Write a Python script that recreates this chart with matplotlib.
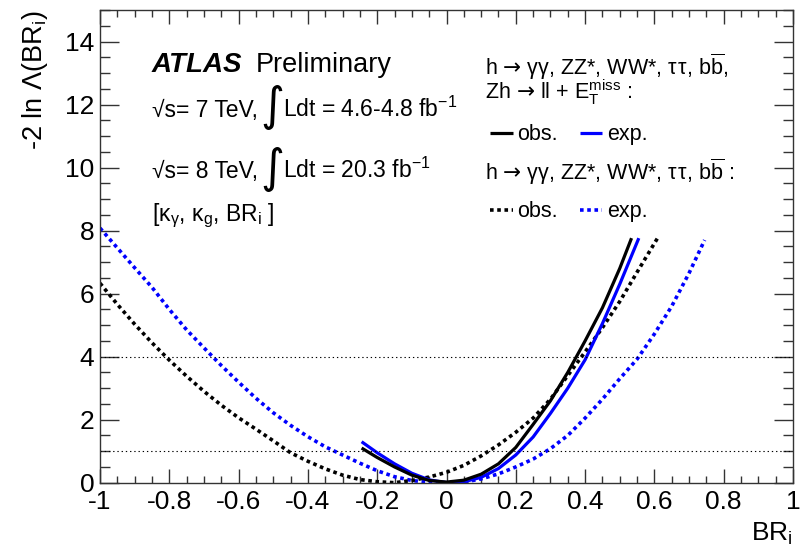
import matplotlib
matplotlib.use("Agg")
import matplotlib.pyplot as plt
from matplotlib.ticker import FixedLocator, MultipleLocator, FixedFormatter

plt.rcParams['font.family'] = ['Liberation Sans', 'DejaVu Sans']
plt.rcParams['mathtext.fontset'] = 'custom'
plt.rcParams['mathtext.rm'] = 'Liberation Sans'
plt.rcParams['mathtext.it'] = 'Liberation Sans:italic'
plt.rcParams['mathtext.bf'] = 'Liberation Sans:bold'
plt.rcParams['mathtext.sf'] = 'DejaVu Sans'
plt.rcParams['mathtext.default'] = 'regular'

# ---------------- data ----------------
# observed, h -> yy, ZZ*, WW*, tautau, bb + Zh -> ll + ETmiss (solid black)
obs_full_x = [-0.245, -0.2, -0.15, -0.1, -0.05, 0.0, 0.05, 0.1, 0.15, 0.2, 0.25, 0.3, 0.35, 0.4, 0.45, 0.5, 0.534]
obs_full_y = [1.10, 0.80, 0.50, 0.24, 0.07, 0.02, 0.08, 0.27, 0.60, 1.12, 1.85, 2.60, 3.50, 4.50, 5.55, 6.80, 7.76]

# expected, same channels (solid blue)
exp_full_x = [-0.245, -0.2, -0.15, -0.1, -0.05, 0.0, 0.05, 0.1, 0.15, 0.2, 0.25, 0.3, 0.35, 0.4, 0.45, 0.5, 0.555]
exp_full_y = [1.30, 0.95, 0.60, 0.30, 0.09, 0.00, 0.03, 0.17, 0.45, 0.88, 1.45, 2.20, 3.00, 3.90, 5.05, 6.30, 7.76]

# observed, visible channels only (dotted black)
obs_vis_x = [-1.0, -0.95, -0.9, -0.85, -0.8, -0.75, -0.7, -0.65, -0.6, -0.55, -0.5, -0.45, -0.4,
             -0.35, -0.3, -0.25, -0.2, -0.15, -0.1, -0.05, 0.0, 0.05, 0.1, 0.15, 0.2, 0.25, 0.3,
             0.35, 0.4, 0.45, 0.5, 0.55, 0.609]
obs_vis_y = [6.33, 5.66, 5.03, 4.44, 3.89, 3.38, 2.90, 2.46, 2.06, 1.70, 1.33, 0.95, 0.68,
             0.44, 0.24, 0.10, 0.03, 0.00, 0.07, 0.18, 0.33, 0.55, 0.85, 1.20, 1.60, 2.05, 2.65,
             3.40, 4.15, 4.92, 5.75, 6.68, 7.76]

# expected, visible channels only (dotted blue)
exp_vis_x = [-1.0, -0.95, -0.9, -0.85, -0.8, -0.75, -0.7, -0.65, -0.6, -0.55, -0.5, -0.45, -0.4,
             -0.35, -0.3, -0.25, -0.2, -0.15, -0.1, -0.05, 0.0, 0.05, 0.1, 0.15, 0.2, 0.25, 0.3,
             0.35, 0.4, 0.45, 0.5, 0.55, 0.6, 0.65, 0.7, 0.745]
exp_vis_y = [8.08, 7.45, 6.82, 6.20, 5.50, 4.85, 4.28, 3.72, 3.19, 2.68, 2.22, 1.82, 1.46,
             1.14, 0.88, 0.62, 0.38, 0.19, 0.07, 0.01, 0.00, 0.02, 0.12, 0.28, 0.50, 0.75, 1.08,
             1.50, 2.05, 2.65, 3.30, 3.92, 4.72, 5.60, 6.65, 7.70]

ref_levels = [1, 4]

x_major = [-1.0, -0.8, -0.6, -0.4, -0.2, 0.0, 0.2, 0.4, 0.6, 0.8, 1.0]
x_labels = ['-1', '-0.8', '-0.6', '-0.4', '-0.2', '0', '0.2', '0.4', '0.6', '0.8', '1']
y_major = [0, 2, 4, 6, 8, 10, 12, 14]
y_labels = ['0', '2', '4', '6', '8', '10', '12', '14']

BLUE = '#0000ff'
dotted = (0, (1.0, 1.0))

# ---------------- figure ----------------
fig = plt.figure(figsize=(8.06, 5.46), dpi=100)
ax = fig.add_axes([100/806, 1 - 482.7/546, 693/806, 472.7/546])

ax.plot(exp_vis_x, exp_vis_y, color=BLUE, lw=2.6, ls=dotted, dash_capstyle='butt')
ax.plot(obs_vis_x, obs_vis_y, color='black', lw=2.6, ls=dotted, dash_capstyle='butt')
ax.plot(exp_full_x, exp_full_y, color=BLUE, lw=2.3, solid_capstyle='butt')
ax.plot(obs_full_x, obs_full_y, color='black', lw=2.3, solid_capstyle='butt')

for lev in ref_levels:
    ax.axhline(lev, color='black', lw=0.8, ls=(0, (1.2, 2.6)))

ax.set_xlim(-1, 1)
ax.set_ylim(0, 15)
ax.xaxis.set_major_locator(FixedLocator(x_major))
ax.xaxis.set_major_formatter(FixedFormatter(x_labels))
ax.xaxis.set_minor_locator(MultipleLocator(0.05))
ax.yaxis.set_major_locator(FixedLocator(y_major))
ax.yaxis.set_major_formatter(FixedFormatter(y_labels))
ax.yaxis.set_minor_locator(MultipleLocator(0.5))

ax.tick_params(which='both', direction='in', top=True, right=True, width=1.0, colors='#333333',
               labelcolor='black', labelsize=19)
ax.tick_params(axis='x', which='major', length=10, pad=5)
ax.tick_params(axis='x', which='minor', length=5)
ax.tick_params(axis='y', which='major', length=14, pad=4)
ax.tick_params(axis='y', which='minor', length=7)
for s in ax.spines.values():
    s.set_color('#333333')
    s.set_linewidth(1.0)

# axis titles
fig.text(35/806, 1 - 10/546, r'-2 ln Λ(BR$_{i}$)', rotation=90, ha='center', va='top', fontsize=19.5)
ax.text(1.0, -0.1225, r'BR$_{i}$', transform=ax.transAxes, ha='right', va='baseline', fontsize=19)

# ---------------- labels on the left ----------------
def fx(px):
    return (px - 100) / 693.0

def fy(py):
    return (482.7 - py) / 472.7

T = ax.transAxes
ax.text(fx(152), fy(72), 'ATLAS', transform=T, fontsize=20, fontweight='bold', style='italic', va='baseline')
ax.text(fx(256), fy(72), 'Preliminary', transform=T, fontsize=19.5, va='baseline')

ax.text(fx(152), fy(117), '√s= 7 TeV,', transform=T, fontsize=16.5, va='baseline')
ax.text(fx(272), fy(108), '∫', transform=T, fontsize=33, va='center', ha='center', family='DejaVu Sans')
ax.text(fx(283), fy(117), r'Ldt = 4.6-4.8 fb$^{-1}$', transform=T, fontsize=16.5, va='baseline')

ax.text(fx(152), fy(178), '√s= 8 TeV,', transform=T, fontsize=16.5, va='baseline')
ax.text(fx(272), fy(169), '∫', transform=T, fontsize=33, va='center', ha='center', family='DejaVu Sans')
ax.text(fx(283), fy(178), r'Ldt = 20.3 fb$^{-1}$', transform=T, fontsize=16.5, va='baseline')

ax.text(fx(152), fy(221), r'[κ$_{γ}$, κ$_{g}$, BR$_{i}$ ]', transform=T, fontsize=16.5, va='baseline')

# ---------------- legend on the right ----------------
RFS = 15.5
ax.text(fx(485), fy(75), r'h $\mathsf{→}$ γγ, ZZ*, WW*, τ$\hspace{0.08}$τ, b$\overline{b}$,', transform=T, fontsize=RFS, va='baseline')
ax.text(fx(485), fy(99), r'Zh $\mathsf{→}$ ll + E$_{T}^{miss}$ :', transform=T, fontsize=RFS, va='baseline')
ax.text(fx(485), fy(180), r'h $\mathsf{→}$ γγ, ZZ*, WW*, τ$\hspace{0.08}$τ, b$\overline{b}$ :', transform=T, fontsize=RFS, va='baseline')

ax.plot([fx(490), fx(513)], [fy(133), fy(133)], transform=T, color='black', lw=2.3, solid_capstyle='butt')
ax.plot([fx(580), fx(602)], [fy(133), fy(133)], transform=T, color=BLUE, lw=2.3, solid_capstyle='butt')
ax.text(fx(517), fy(140), 'obs.', transform=T, fontsize=RFS, va='baseline')
ax.text(fx(607), fy(140), 'exp.', transform=T, fontsize=RFS, va='baseline')

ax.plot([fx(490), fx(513)], [fy(210), fy(210)], transform=T, color='black', lw=2.6, ls=dotted, dash_capstyle='butt')
ax.plot([fx(580), fx(602)], [fy(210), fy(210)], transform=T, color=BLUE, lw=2.6, ls=dotted, dash_capstyle='butt')
ax.text(fx(517), fy(217), 'obs.', transform=T, fontsize=RFS, va='baseline')
ax.text(fx(607), fy(217), 'exp.', transform=T, fontsize=RFS, va='baseline')

fig.savefig('out.png', dpi=100)
